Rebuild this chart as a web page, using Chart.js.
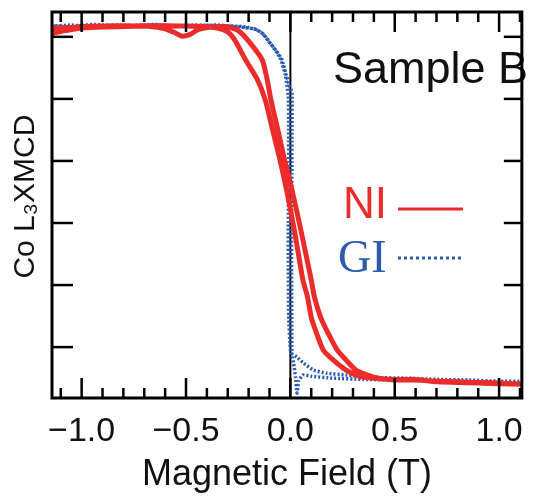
<!DOCTYPE html>
<html>
<head>
<meta charset="utf-8">
<script src="https://cdn.jsdelivr.net/npm/chart.js@4"></script>
<style>
  html, body { margin: 0; padding: 0; background: #fff; }
  #c { display: block; }
</style>
</head>
<body>
<canvas id="c" width="533" height="497"></canvas>
<script>
// ---- data ----
// NI: field swept from + to - (left branch)
const niDownField = [1.12, 1.00, 0.90, 0.80, 0.70, 0.60, 0.50, 0.40, 0.33, 0.267, 0.206, 0.158, 0.125, 0.10, 0.082, 0.06, 0.019, -0.018, -0.05, -0.085, -0.12, -0.158, -0.215, -0.267, -0.30, -0.35, -0.45, -0.60, -0.75, -0.90, -1.00, -1.08, -1.15];
const niDownXmcd  = [-2.60, -2.58, -2.57, -2.56, -2.55, -2.53, -2.52, -2.50, -2.47, -2.37, -2.21, -2.05, -1.77, -1.52, -1.19, -0.92, -0.11, 0.53, 1.02, 1.50, 1.98, 2.31, 2.63, 2.95, 3.08, 3.14, 3.17, 3.18, 3.17, 3.16, 3.14, 3.10, 3.06];
// NI: field swept from - to + (right branch)
const niUpField = [-1.15, -1.05, -0.95, -0.80, -0.68, -0.60, -0.55, -0.52, -0.48, -0.44, -0.38, -0.30, -0.25, -0.205, -0.135, -0.111, -0.093, -0.06, -0.028, 0.008, 0.05, 0.10, 0.115, 0.145, 0.18, 0.225, 0.267, 0.314, 0.395, 0.50, 0.60, 0.70, 0.80, 0.90, 1.00, 1.12];
const niUpXmcd  = [3.13, 3.15, 3.17, 3.18, 3.17, 3.13, 3.06, 3.01, 3.04, 3.12, 3.16, 3.16, 3.10, 2.95, 2.63, 2.31, 1.98, 1.50, 1.02, 0.53, -0.11, -0.92, -1.19, -1.52, -1.77, -2.05, -2.21, -2.37, -2.48, -2.53, -2.52, -2.56, -2.57, -2.58, -2.59, -2.60];
// GI: field swept from + to -
const giDownField = [1.12, 0.95, 0.80, 0.65, 0.50, 0.35, 0.20, 0.10, 0.06, 0.04, 0.032, 0.025, 0.015, 0.0, -0.008, -0.010, -0.010, -0.009, -0.008, -0.010, -0.025, -0.05, -0.075, -0.105, -0.135, -0.175, -0.25, -0.35, -0.50, -0.65, -0.80, -0.95, -1.05, -1.15];
const giDownXmcd  = [-2.58, -2.57, -2.55, -2.54, -2.53, -2.52, -2.50, -2.47, -2.45, -2.55, -2.74, -2.50, -2.25, -2.05, -1.50, -0.70, 0.00, 0.80, 1.50, 2.05, 2.40, 2.66, 2.80, 2.93, 3.06, 3.13, 3.16, 3.19, 3.17, 3.19, 3.17, 3.20, 3.16, 3.18];
// GI: field swept from - to +
const giUpField = [-1.15, -1.05, -0.95, -0.85, -0.75, -0.65, -0.55, -0.45, -0.35, -0.25, -0.20, -0.158, -0.125, -0.097, -0.064, -0.040, -0.017, -0.002, 0.008, 0.008, 0.007, 0.006, 0.006, 0.007, 0.009, 0.031, 0.064, 0.111, 0.173, 0.267, 0.40, 0.55, 0.70, 0.85, 1.00, 1.12];
const giUpXmcd  = [3.17, 3.19, 3.16, 3.19, 3.18, 3.20, 3.17, 3.19, 3.18, 3.17, 3.15, 3.11, 3.03, 2.90, 2.76, 2.63, 2.35, 2.19, 2.10, 1.50, 0.80, 0.00, -0.80, -1.60, -2.10, -2.16, -2.26, -2.37, -2.42, -2.45, -2.49, -2.50, -2.52, -2.53, -2.55, -2.55];

const seriesNames = ['NI', 'GI'];
const xMajorTicks = [-1.0, -0.5, 0.0, 0.5, 1.0];
const xTickLabels = ['\u22121.0', '\u22120.5', '0.0', '0.5', '1.0'];
const xAxisTitle = 'Magnetic Field (T)';
const yAxisTitle = '  Co L\u2083XMCD';
const panelLabel = 'Sample B';

// ---- build ----
const toPts = (xs, ys) => xs.map((v, i) => ({ x: v, y: ys[i] }));
const niPts = toPts(niDownField, niDownXmcd).concat(toPts(niUpField, niUpXmcd));
const giPts = toPts(giDownField, giDownXmcd).concat(toPts(giUpField, giUpXmcd));

const RED = '#ec2b2b';
const BLUE = '#2c5bb0';

function line(ctx, x1, y1, x2, y2) {
  ctx.beginPath(); ctx.moveTo(x1, y1); ctx.lineTo(x2, y2); ctx.stroke();
}

const framePlugin = {
  id: 'frame',
  beforeDatasetsDraw(chart) {
    const { ctx, chartArea: a, scales: { x } } = chart;
    const px = x.getPixelForValue(0);
    ctx.save();
    ctx.strokeStyle = '#000';
    ctx.lineWidth = 2;
    line(ctx, px, a.top, px, a.bottom);
    ctx.restore();
  },
  afterDraw(chart) {
    const { ctx, chartArea: a, scales: { x, y } } = chart;
    ctx.save();
    // panel label and legend
    ctx.textAlign = 'left';
    ctx.textBaseline = 'alphabetic';
    ctx.fillStyle = '#111';
    ctx.font = '45px "Liberation Sans", Arial, sans-serif';
    ctx.fillText(panelLabel, a.left + 281, a.top + 71);

    ctx.fillStyle = RED;
    ctx.font = '44px "Liberation Sans", Arial, sans-serif';
    ctx.fillText(seriesNames[0], a.left + 291, a.top + 206);
    ctx.fillStyle = BLUE;
    ctx.font = '46px "Liberation Serif", "Times New Roman", serif';
    ctx.fillText(seriesNames[1], a.left + 286, a.top + 260);

    ctx.strokeStyle = RED; ctx.lineWidth = 3;
    line(ctx, a.left + 346, a.top + 197, a.left + 411, a.top + 197);
    ctx.strokeStyle = BLUE; ctx.lineWidth = 3; ctx.setLineDash([3, 3]);
    line(ctx, a.left + 346, a.top + 246, a.left + 410, a.top + 246);
    ctx.setLineDash([]);

    // inward ticks on all four sides
    ctx.strokeStyle = '#000';
    ctx.lineWidth = 2.5;
    x.ticks.forEach(t => {
      const px = x.getPixelForValue(t.value);
      const major = xMajorTicks.some(m => Math.abs(m - t.value) < 1e-6);
      const L = major ? 20 : 10;
      line(ctx, px, a.bottom, px, a.bottom - L);
      line(ctx, px, a.top, px, a.top + L);
    });
    y.ticks.forEach(t => {
      const py = y.getPixelForValue(t.value);
      line(ctx, a.left, py, a.left + 21, py);
      line(ctx, a.right, py, a.right - 18, py);
    });
    ctx.lineWidth = 3;
    ctx.strokeRect(a.left, a.top, a.right - a.left, a.bottom - a.top);
    ctx.restore();
  }
};

new Chart(document.getElementById('c'), {
  type: 'scatter',
  data: {
    datasets: [
      { label: seriesNames[0], data: niPts, showLine: true, borderColor: RED, borderWidth: 5,
        pointRadius: 0, tension: 0.2, fill: false },
      { label: seriesNames[1], data: giPts, showLine: true, borderColor: BLUE, borderWidth: 3.5,
        borderDash: [2, 2], pointRadius: 0, tension: 0.15, fill: false }
    ]
  },
  options: {
    responsive: false,
    animation: false,
    devicePixelRatio: 1,
    layout: { padding: { top: 12, right: 5, left: 0, bottom: 0 } },
    plugins: { legend: { display: false }, tooltip: { enabled: false }, title: { display: false } },
    scales: {
      x: {
        type: 'linear', position: 'bottom',
        min: -1.142, max: 1.109,
        grid: { display: false, drawTicks: false },
        border: { display: false },
        ticks: {
          stepSize: 0.1, includeBounds: false, autoSkip: false, maxRotation: 0, minRotation: 0,
          padding: 13, color: '#111',
          font: { family: '"Liberation Sans", Arial, sans-serif', size: 34 },
          callback: (v) => {
            const i = xMajorTicks.findIndex(m => Math.abs(m - v) < 1e-6);
            return i >= 0 ? xTickLabels[i] : '';
          }
        },
        title: {
          display: true, text: xAxisTitle, color: '#111',
          font: { family: '"Liberation Sans", Arial, sans-serif', size: 36 },
          padding: { top: 0, bottom: 0 }
        },
        afterFit: (s) => { s.height = 99; }
      },
      y: {
        type: 'linear', position: 'left',
        min: -2.82, max: 3.40,
        grid: { display: false, drawTicks: false },
        border: { display: false },
        ticks: { display: false, stepSize: 1, includeBounds: false },
        title: {
          display: true, text: yAxisTitle, color: '#111',
          font: { family: '"Liberation Sans", Arial, sans-serif', size: 30 },
          padding: { top: 8, bottom: 0 }
        },
        afterFit: (s) => { s.width = 52; }
      }
    }
  },
  plugins: [framePlugin]
});
</script>
</body>
</html>
